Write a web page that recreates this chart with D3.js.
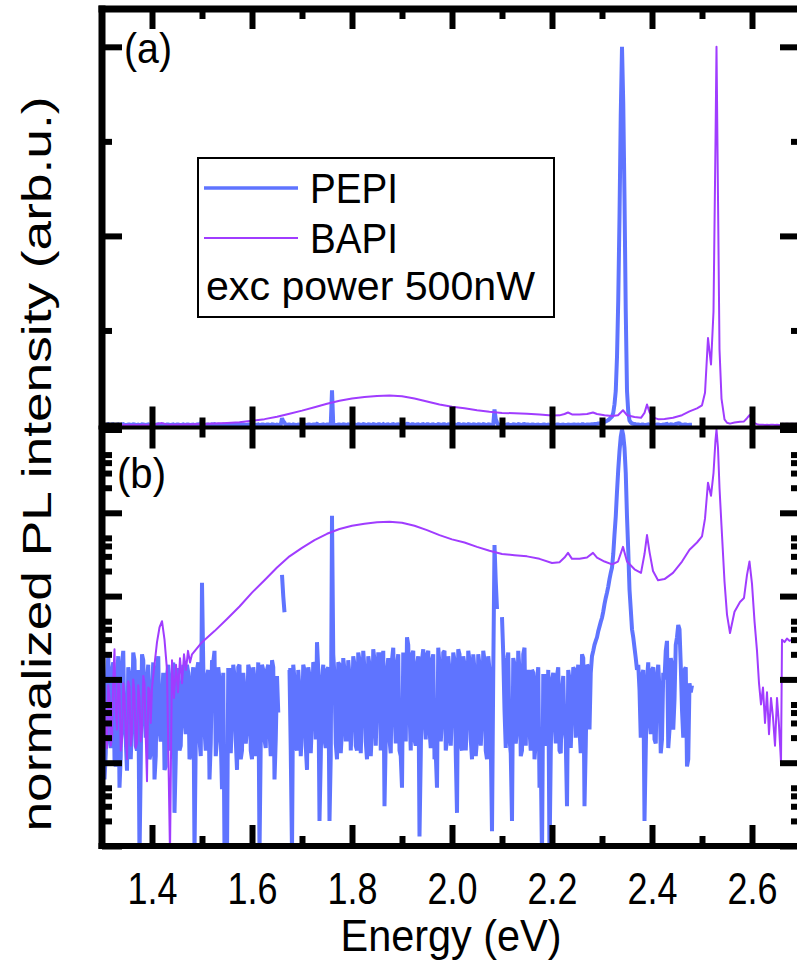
<!DOCTYPE html>
<html>
<head>
<meta charset="utf-8">
<script src="https://cdn.jsdelivr.net/npm/d3@7"></script>
<style>
  body { margin: 0; background: #fff; }
  text { font-family: "Liberation Sans", Arial, sans-serif; fill: #000; }
</style>
</head>
<body>
<div id="chart"></div>
<script>
// PEPI spectrum (normalized), read on a 5 meV grid from 1.300 eV to 2.480 eV ...
const pepiStart = 1.3;
const pepiStep = 0.005;
const pepiValues = [
  2.4e-3, 6.3e-5, 7.5e-4, 1.9e-4, 1.3e-3, 1.1e-4, 1.0e-3, 5e-5, 1.5e-3, 2.5e-4,
  8e-5, 1.1e-3, 3.3e-4, 1.7e-3, 1.4e-4, 7e-6, 2.0e-3, 4.3e-4, 1.0e-3, 1.1e-4,
  7.5e-4, 6.3e-5, 1.3e-3, 2.5e-4, 5.7e-4, 8.2e-5, 1.1e-3, 1.9e-4, 1.0e-3, 2.5e-5,
  1.3e-3, 1.4e-4, 7.5e-4, 3.3e-4, 1.5e-3, 1.1e-4, 1.0e-3, 8e-6, 1.3e-3, 1.9e-4,
  1.45e-2, 2.5e-4, 1.1e-3, 6.3e-5, 1.7e-3, 2.2e-3, 1.9e-4, 1.0e-3, 4.8e-5, 8e-6,
  7e-6, 1.3e-3, 3.3e-4, 1.1e-3, 8.2e-5, 1.5e-3, 1.4e-4, 7.5e-4, 2.5e-4, 1.3e-3,
  1.1e-4, 1.0e-3, 4.3e-4, 8e-6, 1.5e-3, 1.9e-4, 1.3e-3, 2.5e-4, 1.7e-3, 6.3e-5,
  1.1e-3, -1e-4, 1.8e-2, 6.4e-3, -1e-4, 1.3e-3, 8e-6, 1.0e-3, 1.4e-4, 7.5e-4,
  2.5e-4, 1.3e-3, 8.2e-5, 1.1e-3, 3.3e-4, 1.5e-3, 2.8e-3, 2e-5, 1.0e-3, 1.9e-4,
  1.3e-3, 2e-5, 0.092, 1.1e-3, 1.1e-4, 1.5e-3, 2.5e-4, 1.3e-3, 1.9e-4, 1.1e-3,
  3.3e-4, 1.5e-3, 1.4e-4, 1.7e-3, 4.3e-4, 1.3e-3, 1.1e-4, 1.5e-3, 2.5e-4, 1.7e-3,
  5.7e-4, 2.0e-3, 3.3e-4, 3e-5, 1.3e-3, 1.9e-4, 1.7e-3, 4.3e-4, 1.5e-3, 1.4e-4,
  5e-5, 1.7e-3, 3.2e-3, 4.3e-4, 2.0e-3, 1.9e-4, 1.5e-3, 1.3e-5, 1.7e-3, 3.3e-4,
  2.0e-3, 2.5e-4, 1.7e-3, 1.1e-4, 5e-5, 1.5e-3, 3.3e-4, 2.2e-3, 1.9e-4, 1.3e-3,
  4.3e-4, 1.7e-3, 2.5e-5, 2.0e-3, 1.4e-4, 1.5e-3, 3.3e-4, 1.7e-3, 1.1e-4, 1.3e-3,
  1.9e-4, 1.5e-3, 3.3e-4, 1.7e-3, 1.1e-4, 1.3e-3, 1.5e-5, 4.1e-2, 7.0e-3, -1e-4,
  5.6e-3, 4.3e-4, 1.7e-3, 1.9e-4, 2e-5, 1.5e-3, 2.5e-4, 1.3e-3, 1.4e-4, 2.4e-3,
  1.1e-3, 2.5e-4, 1.3e-3, 1.1e-4, 1.0e-3, 5e-5, 7e-6, 1.1e-3, 1.9e-4, 7e-6,
  1.0e-3, 3.3e-4, 1.1e-3, 1.4e-4, 7.5e-4, 2.5e-4, 3e-5, 1.0e-3, 4.3e-4, 1.3e-3,
  1.0e-3, 2.5e-4, 2.0e-3, 3e-5, 1.5e-3, 2.5e-4, 1.9e-3, 2.6e-3, 3.2e-3, 4.3e-3,
  5.5e-3, 8.0e-3, 1.1e-2, 1.6e-2, 2.2e-2, 5.5e-2, 0.18, 0.55, 1.0, 0.6, 0.09, 1.2e-2, 4.0e-3, 2.4e-3,
  1.3e-3, 7.5e-4, 1.1e-3, 2e-5, 1.0e-3, 3.3e-4, 1.3e-3, 1.9e-4, 1.1e-3, 7.5e-4,
  1.9e-4, 1.0e-3, 2.9e-3, 2.5e-4, 1.5e-3, 5.7e-4, 3.2e-3, 4.0e-3, 4.3e-4, 1.3e-3,
  9e-5, 9.0e-4, 8.5e-4
];
// ... and on the half-step points in between (1.3025 eV to 2.4775 eV)
const pepiHalfValues = [
  1.8e-3, 1.3e-4, 2.0e-3, 1.5e-4, 1.6e-3, 9e-5, 1.9e-3, 1.2e-4, 2.2e-3, 1.9e-4,
  1.4e-3, 1.1e-4, 2.1e-3, 1.6e-4, 1.3e-3, 1.0e-4, 1.7e-3, 2.0e-4, 1.5e-3, 1.3e-4,
  1.6e-3, 1.2e-4, 1.9e-3, 1.8e-4, 1.2e-3, 9e-5, 1.5e-3, 1.4e-4, 1.6e-3, 1.1e-4,
  1.3e-3, 1.6e-4, 1.5e-3, 2.2e-4, 1.2e-3, 1.3e-4, 1.4e-3, 1.8e-4, 1.6e-3, 1.2e-4,
  1.5e-3, 1.4e-4, 1.3e-3, 1.7e-4, 1.6e-3, 1.2e-4, 1.4e-3, 2.0e-4, 1.2e-3, 1.5e-4,
  1.3e-3, 1.3e-4, 1.5e-3, 1.9e-4, 1.4e-3, 1.1e-4, 1.2e-3, 1.7e-4, 1.5e-3, 1.4e-4,
  1.4e-3, 1.2e-4, 1.6e-3, 1.8e-4, 1.3e-3, 1.5e-4, 1.5e-3, 1.2e-4, 1.4e-3, 1.9e-4,
  4e-4, -1e-4, 1.0e-2, -1e-4, 1.3e-3, 1.4e-4, 1.5e-3, 1.7e-4, 1.3e-3, 1.2e-4,
  1.5e-3, 1.6e-4, 1.4e-3, 1.3e-4, 1.6e-3, 1.9e-4, 1.3e-3, 1.1e-4, 1.5e-3, 1.5e-4,
  1.4e-3, 1.2e-4, 2.0e-3, 1.7e-4, 1.6e-3, 1.3e-4, 1.8e-3, 1.9e-4, 1.7e-3, 1.4e-4,
  1.9e-3, 1.6e-4, 2.1e-3, 1.3e-4, 2.2e-3, 1.8e-4, 1.9e-3, 1.2e-4, 2.3e-3, 1.6e-4,
  2.0e-3, 1.4e-4, 2.2e-3, 1.9e-4, 1.8e-3, 1.3e-4, 2.4e-3, 1.7e-4, 2.0e-3, 1.2e-4,
  2.1e-3, 1.8e-4, 2.6e-3, 1.4e-4, 2.2e-3, 1.6e-4, 1.9e-3, 1.2e-4, 2.3e-3, 1.9e-4,
  2.2e-3, 1.5e-4, 2.0e-3, 1.3e-4, 2.4e-3, 1.8e-4, 2.1e-3, 1.4e-4, 1.9e-3, 1.6e-4,
  2.1e-3, 1.3e-4, 2.3e-3, 1.7e-4, 1.9e-3, 1.4e-4, 2.2e-3, 1.9e-4, 2.0e-3, 1.2e-4,
  2.0e-3, 1.6e-4, 2.2e-3, 1.4e-4, 1.9e-3, 1.8e-4, 1.2e-3, 1.5e-2, -1e-4, -1e-4,
  2.0e-3, 1.5e-4, 2.1e-3, 1.3e-4, 1.8e-3, 1.7e-4, 2.2e-3, 1.2e-4, 2.0e-3, 1.6e-4,
  1.3e-3, 1.4e-4, 1.2e-3, 1.8e-4, 1.4e-3, 1.2e-4, 1.1e-3, 1.6e-4, 1.3e-3, 1.3e-4,
  1.2e-3, 1.7e-4, 1.4e-3, 1.3e-4, 1.1e-3, 1.9e-4, 1.3e-3, 1.5e-4, 1.4e-3, 2.0e-4,
  1.5e-3, 1.3e-4, 1.8e-3, 1.6e-4, 1.4e-3, 1.2e-3, 2.2e-3, 2.9e-3, 3.8e-3, 4.9e-3,
  6.5e-3, 9.5e-3, 1.3e-2, 1.9e-2, 3.2e-2, 9e-2, 0.33, 0.82, 0.85, 0.3, 3.5e-2, 7e-3, 3.2e-3, 1.8e-3,
  1.5e-3, 2.0e-4, 1.3e-3, 1.4e-4, 1.6e-3, 2.2e-4, 1.4e-3, 1.7e-4, 1.5e-3, 1.3e-4,
  1.2e-3, 2.2e-3, 1.5e-4, 1.8e-3, 2.5e-4, 2.6e-3, 4.5e-3, 1.5e-3, 2.0e-4, 1.4e-3,
  1.1e-4, 7e-4
];

// BAPI spectrum (normalized)
const bapiEnergy = [
  1.3000, 1.3025, 1.3050, 1.3075, 1.3100, 1.3125, 1.3150, 1.3175, 1.3200, 1.3225,
  1.3250, 1.3275, 1.3300, 1.3325, 1.3350, 1.3375, 1.3400, 1.3425, 1.3450, 1.3475,
  1.3500, 1.3525, 1.3550, 1.3575, 1.3600, 1.3625, 1.3650, 1.3675, 1.3700, 1.3725,
  1.3750, 1.3775, 1.3800, 1.3825, 1.3850, 1.3875, 1.3900, 1.3925, 1.3950, 1.3975,
  1.400, 1.405, 1.410, 1.415, 1.420, 1.425, 1.430, 1.436, 1.440, 1.444,
  1.448, 1.452, 1.456, 1.460, 1.464, 1.468, 1.472, 1.476, 1.480, 1.500,
  1.525, 1.550, 1.575, 1.600, 1.625, 1.650, 1.675, 1.700, 1.725, 1.750,
  1.775, 1.800, 1.825, 1.850, 1.875, 1.900, 1.925, 1.950, 1.975, 2.000,
  2.025, 2.050, 2.075, 2.100, 2.125, 2.150, 2.175, 2.200, 2.215, 2.225,
  2.232, 2.240, 2.255, 2.270, 2.282, 2.290, 2.305, 2.320, 2.332, 2.342,
  2.350, 2.365, 2.378, 2.385, 2.390, 2.395, 2.402, 2.412, 2.425, 2.442,
  2.460, 2.475, 2.490, 2.500, 2.506, 2.512, 2.518, 2.523, 2.527, 2.529,
  2.532, 2.535, 2.539, 2.545, 2.550, 2.556, 2.565, 2.576, 2.584, 2.590,
  2.595, 2.600, 2.605, 2.610, 2.614, 2.618, 2.622, 2.626, 2.630, 2.634,
  2.638, 2.642, 2.646, 2.650, 2.654, 2.658, 2.660, 2.665, 2.670, 2.675,
  2.680, 2.685, 2.690, 2.700
];
const bapiValues = [
  3.3e-4, 9e-4, 7.5e-4, 2.0e-4, 1.5e-4, 8.5e-4, 6.0e-4, 1.6e-4, 2.0e-4, 1.0e-3,
  2.3e-3, 4e-4, 2.5e-4, 1.0e-3, 7.5e-4, 1.4e-4, 1.9e-4, 9e-4, 6.5e-4, 2.0e-4,
  1.1e-4, 9.5e-4, 8.0e-4, 1.6e-4, 2.2e-4, 1.0e-3, 7.0e-4, 1.5e-4, 1.7e-4, 8.5e-4,
  6.0e-4, 1.8e-4, 2.5e-4, 1.1e-3, 9.0e-4, 2.0e-4, 6e-5, 8e-4, 7.5e-4, 3e-4,
  8.0e-4, 1.5e-3, 2.8e-3, 4.2e-3, 5.0e-3, 3.0e-3, 1.3e-3, 8e-6, 1.7e-3, 6.0e-4,
  1.5e-3, 7.0e-4, 1.8e-3, 9.0e-4, 2.0e-3, 1.3e-3, 2.2e-3, 1.6e-3, 2.0e-3, 2.8e-3,
  3.8e-3, 5.3e-3, 7.5e-3, 1.1e-2, 1.55e-2, 2.2e-2, 3.0e-2, 3.8e-2, 4.7e-2, 5.6e-2,
  6.4e-2, 7.0e-2, 7.4e-2, 7.7e-2, 7.8e-2, 7.6e-2, 7.0e-2, 6.2e-2, 5.4e-2, 4.8e-2,
  4.4e-2, 3.9e-2, 3.5e-2, 3.2e-2, 3.1e-2, 3.0e-2, 2.8e-2, 2.5e-2, 2.55e-2, 2.9e-2,
  3.3e-2, 2.8e-2, 2.8e-2, 2.9e-2, 3.3e-2, 2.9e-2, 2.6e-2, 2.4e-2, 2.6e-2, 3.9e-2,
  2.6e-2, 2.1e-2, 1.9e-2, 3.2e-2, 5.4e-2, 3.4e-2, 2.0e-2, 1.55e-2, 1.6e-2, 1.9e-2,
  2.6e-2, 3.6e-2, 4.4e-2, 5.2e-2, 8.5e-2, 0.23, 0.16, 0.3, 0.75, 1.0,
  0.6, 0.2, 0.07, 1.5e-2, 6e-3, 3.6e-3, 6.5e-3, 8.5e-3, 9.5e-3, 1.8e-2,
  2.6e-2, 1.4e-2, 5e-3, 2.2e-3, 9e-4, 5e-4, 8e-4, 3e-4, 7e-4, 2.2e-4,
  6e-4, 3.5e-4, 1.6e-4, 6e-4, 2.8e-4, 1.0e-4, 3.0e-3, 2.8e-3, 3.1e-3, 2.9e-3,
  3.0e-3, 2.8e-3, 3.0e-3, 2.9e-3
];

const xTicks = [1.4, 1.6, 1.8, 2.0, 2.2, 2.4, 2.6];
const xMinorTicks = [1.5, 1.7, 1.9, 2.1, 2.3, 2.5, 2.7];
const linTicks = [0, 0.5, 1];
const linMinorTicks = [0.25, 0.75];
const logTicks = [1e-5, 1e-4, 1e-3, 1e-2, 1e-1, 1];
const logMinorSteps = [2, 3, 4, 5];

const seriesNames = ["PEPI", "BAPI"];
const pepiColor = "#5f74ff";
const bapiColor = "#a03cff";

const W = 797, H = 967;

// merge the two PEPI grids in energy order
const pepi = [];
pepiValues.forEach((v, i) => {
  pepi.push({ e: pepiStart + i * pepiStep, v: v });
  if (i < pepiHalfValues.length) {
    pepi.push({ e: pepiStart + (i + 0.5) * pepiStep, v: pepiHalfValues[i] });
  }
});
const bapi = bapiEnergy.map((e, i) => ({ e: e, v: bapiValues[i] }));
const logMinorTicks = logTicks.slice(0, -1).flatMap(d => logMinorSteps.map(k => k * d));

const svg = d3.select("#chart")
  .append("svg")
  .attr("width", W)
  .attr("height", H)
  .style("display", "block");

svg.append("rect").attr("width", W).attr("height", H).attr("fill", "#fff");

const x = d3.scaleLinear().domain([1.3, 2.7]).range([102, 802]);
const yA = d3.scaleLinear().domain([0, 1.1]).range([425, 9]);
const yB = d3.scaleLog().domain([1e-5, 1]).range([846, 429.5]);

const midY = 427.5;

// clip regions for the two panels
const defs = svg.append("defs");
defs.append("clipPath").attr("id", "clipA")
  .append("rect").attr("x", 102).attr("y", 9).attr("width", 700).attr("height", midY - 9);
defs.append("clipPath").attr("id", "clipB")
  .append("rect").attr("x", 102).attr("y", midY).attr("width", 700).attr("height", 846 - midY);

const lineA = d3.line().x(d => x(d.e)).y(d => yA(d.v));
const lineB = d3.line().defined(d => d.v > 0).x(d => x(d.e)).y(d => yB(d.v));

const gA = svg.append("g").attr("clip-path", "url(#clipA)");
const gB = svg.append("g").attr("clip-path", "url(#clipB)");

[[gA, lineA], [gB, lineB]].forEach(([g, ln]) => {
  g.append("path").datum(pepi)
    .attr("d", ln).attr("fill", "none")
    .attr("stroke", pepiColor).attr("stroke-width", 4)
    .attr("stroke-linejoin", "miter").attr("stroke-miterlimit", 2);
  g.append("path").datum(bapi)
    .attr("d", ln).attr("fill", "none")
    .attr("stroke", bapiColor).attr("stroke-width", 2)
    .attr("stroke-linejoin", "round");
});

// axes (ticks inward on all four sides)
function ticks(axis, tx, ty) {
  const g = svg.append("g")
    .attr("transform", `translate(${tx},${ty})`)
    .call(axis);
  g.select(".domain").remove();
  g.selectAll(".tick line").attr("stroke", "#000").attr("stroke-width", 6);
  return g;
}

const noLabel = () => "";

// panel (a)
ticks(d3.axisBottom(x).tickValues(xTicks).tickSize(20).tickFormat(noLabel), 0, 9);
ticks(d3.axisBottom(x).tickValues(xMinorTicks).tickSize(10).tickFormat(noLabel), 0, 9);
ticks(d3.axisTop(x).tickValues(xTicks).tickSize(21).tickFormat(noLabel), 0, midY);
ticks(d3.axisTop(x).tickValues(xMinorTicks).tickSize(10).tickFormat(noLabel), 0, midY);
ticks(d3.axisRight(yA).tickValues(linTicks).tickSize(20).tickFormat(noLabel), 102, 0);
ticks(d3.axisRight(yA).tickValues(linMinorTicks).tickSize(10).tickFormat(noLabel), 102, 0);
ticks(d3.axisLeft(yA).tickValues(linTicks).tickSize(22).tickFormat(noLabel), 802, 0);
ticks(d3.axisLeft(yA).tickValues(linMinorTicks).tickSize(11).tickFormat(noLabel), 802, 0);

// panel (b)
ticks(d3.axisBottom(x).tickValues(xTicks).tickSize(21).tickFormat(noLabel), 0, midY);
ticks(d3.axisBottom(x).tickValues(xMinorTicks).tickSize(10).tickFormat(noLabel), 0, midY);
ticks(d3.axisTop(x).tickValues(xMinorTicks).tickSize(10).tickFormat(noLabel), 0, 846);
const xAxisG = ticks(d3.axisBottom(x).tickValues(xTicks).tickSize(-21).tickFormat(d3.format(".1f")), 0, 846);
xAxisG.attr("font-family", null).attr("font-size", null);
xAxisG.selectAll(".tick text")
  .attr("y", 58).attr("dy", null)
  .attr("font-size", 45)
  .attr("textLength", 50).attr("lengthAdjust", "spacingAndGlyphs")
  .attr("fill", "#000");

ticks(d3.axisRight(yB).tickValues(logTicks).tickSize(20).tickFormat(noLabel), 102, 0);
ticks(d3.axisRight(yB).tickValues(logMinorTicks).tickSize(10).tickFormat(noLabel), 102, 0);
ticks(d3.axisLeft(yB).tickValues(logTicks).tickSize(22).tickFormat(noLabel), 802, 0);
ticks(d3.axisLeft(yB).tickValues(logMinorTicks).tickSize(11).tickFormat(noLabel), 802, 0);

// frame lines
const frame = svg.append("g").attr("stroke", "#000").attr("fill", "none");
frame.append("line").attr("x1", 102).attr("x2", 102).attr("y1", 5.5).attr("y2", 849).attr("stroke-width", 7);
frame.append("line").attr("x1", 802).attr("x2", 802).attr("y1", 5.5).attr("y2", 849).attr("stroke-width", 7);
frame.append("line").attr("x1", 98.5).attr("x2", 805).attr("y1", 9).attr("y2", 9).attr("stroke-width", 7);
frame.append("line").attr("x1", 98.5).attr("x2", 805).attr("y1", midY).attr("y2", midY).attr("stroke-width", 4);
frame.append("line").attr("x1", 98.5).attr("x2", 805).attr("y1", 846).attr("y2", 846).attr("stroke-width", 6);

// panel labels
svg.append("text").attr("x", 124).attr("y", 63).attr("font-size", 42)
  .attr("textLength", 48).attr("lengthAdjust", "spacingAndGlyphs").text("(a)");
svg.append("text").attr("x", 117).attr("y", 488).attr("font-size", 42)
  .attr("textLength", 49).attr("lengthAdjust", "spacingAndGlyphs").text("(b)");

// axis titles
svg.append("text")
  .attr("x", 451).attr("y", 951)
  .attr("text-anchor", "middle")
  .attr("font-size", 45)
  .attr("textLength", 221).attr("lengthAdjust", "spacingAndGlyphs")
  .text("Energy (eV)");

svg.append("text")
  .attr("transform", "translate(51,464) rotate(-90)")
  .attr("text-anchor", "middle")
  .attr("font-size", 40)
  .attr("textLength", 735).attr("lengthAdjust", "spacingAndGlyphs")
  .text("normalized PL intensity (arb.u.)");

// legend
const legend = svg.append("g");
legend.append("rect")
  .attr("x", 198).attr("y", 158).attr("width", 356).attr("height", 159)
  .attr("fill", "#fff").attr("stroke", "#000").attr("stroke-width", 2);
const legendRows = [
  { name: seriesNames[0], color: pepiColor, width: 3.5, y: 188 },
  { name: seriesNames[1], color: bapiColor, width: 2, y: 238 }
];
legendRows.forEach(r => {
  legend.append("line")
    .attr("x1", 204).attr("x2", 298).attr("y1", r.y).attr("y2", r.y)
    .attr("stroke", r.color).attr("stroke-width", r.width);
  legend.append("text")
    .attr("x", 310).attr("y", r.y + 15)
    .attr("font-size", 43)
    .attr("textLength", 88).attr("lengthAdjust", "spacingAndGlyphs")
    .text(r.name);
});
legend.append("text")
  .attr("x", 206).attr("y", 300)
  .attr("font-size", 41)
  .attr("textLength", 329).attr("lengthAdjust", "spacingAndGlyphs")
  .text("exc power 500nW");
</script>
</body>
</html>
